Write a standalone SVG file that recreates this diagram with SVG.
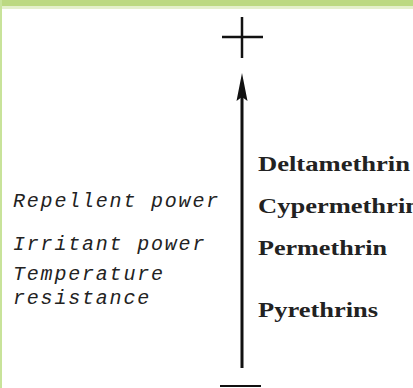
<svg xmlns="http://www.w3.org/2000/svg" width="413" height="388" viewBox="0 0 413 388">
<style>
.l{font-family:"Liberation Mono","DejaVu Sans Mono",monospace;font-style:italic;font-size:20px;letter-spacing:1.8px;fill:#222}
.r{font-family:"Liberation Serif","DejaVu Serif",serif;font-weight:bold;font-size:21px;fill:#222}
.k{stroke:#111;fill:none}
</style>
<rect width="413" height="388" fill="#fff"/>
<rect width="413" height="6" fill="#bcd982"/>
<rect y="6" width="413" height="3" fill="#e4f0cc"/>
<rect width="2" height="388" fill="#c8e39a"/>
<g id="plus"><path class="k" stroke-width="2.5" d="M222 37H263M242 17V58"/></g>
<g id="minus"><path class="k" stroke-width="2" d="M220 386H261"/></g>
<g id="connectors">
<path class="k" stroke-width="3" d="M242 368V96"/>
<path d="M242 73L247.5 101L242 97L236.5 101Z" fill="#111"/>
</g>
<g id="left-labels">
<text class="l" x="13" y="207">Repellent power</text>
<text class="l" x="13" y="250">Irritant power</text>
<text class="l" x="13" y="280">Temperature</text>
<text class="l" x="13" y="304">resistance</text>
</g>
<g id="right-labels">
<text class="r" x="258" y="171" textLength="152" lengthAdjust="spacingAndGlyphs">Deltamethrin</text>
<text class="r" x="258" y="213" textLength="162" lengthAdjust="spacingAndGlyphs">Cypermethrin</text>
<text class="r" x="258" y="255" textLength="129" lengthAdjust="spacingAndGlyphs">Permethrin</text>
<text class="r" x="258" y="317" textLength="120" lengthAdjust="spacingAndGlyphs">Pyrethrins</text>
</g>
</svg>
